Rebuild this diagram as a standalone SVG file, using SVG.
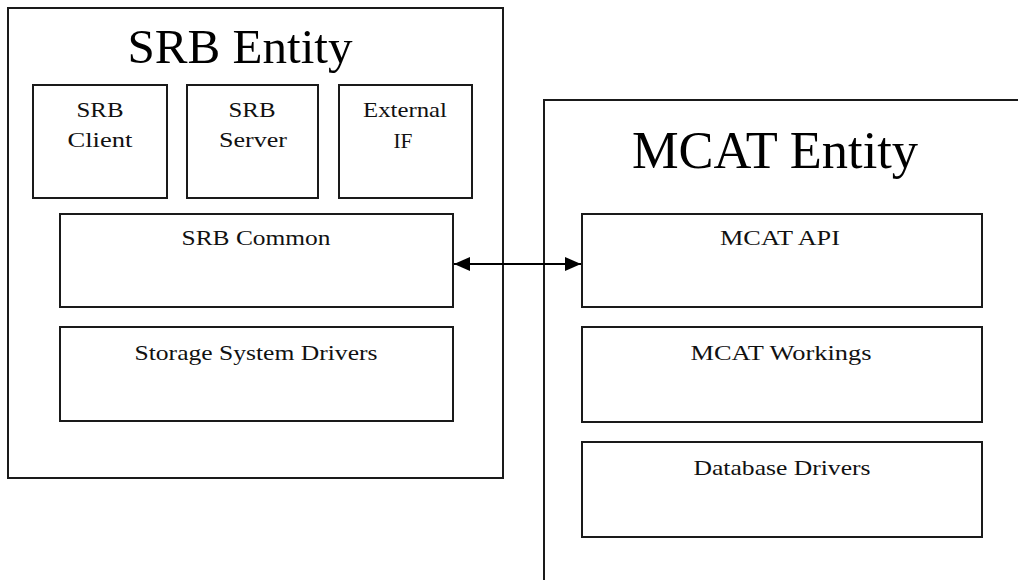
<svg xmlns="http://www.w3.org/2000/svg" width="1018" height="580" viewBox="0 0 1018 580">
<style>
.box{fill:none;stroke:#1a1a1a;stroke-width:2}
.title{font-family:"Liberation Serif","Times New Roman",serif;fill:#000;text-anchor:middle}
.lbl{font-family:"Liberation Serif","Times New Roman",serif;font-size:21px;fill:#111;text-anchor:middle}
.conn{stroke:#000;stroke-width:2;fill:none}
</style>
<defs>
<marker id="ah" viewBox="0 0 16 14" refX="16" refY="7" markerWidth="16" markerHeight="14" markerUnits="userSpaceOnUse" orient="auto-start-reverse">
<path d="M0,0 L16,7 L0,14 Z" fill="#000"/>
</marker>
</defs>
<rect width="1018" height="580" fill="#fff"/>
<g id="srb-entity">
<rect class="box" x="8" y="8" width="495" height="470"/>
<text class="title" x="240" y="63" font-size="48" textLength="225" lengthAdjust="spacingAndGlyphs">SRB Entity</text>
</g>
<g id="mcat-entity">
<path class="box" d="M544,580 L544,100 L1018,100"/>
<text class="title" x="775" y="168" font-size="52" textLength="286" lengthAdjust="spacingAndGlyphs">MCAT Entity</text>
</g>
<g id="srb-client">
<rect class="box" x="33" y="85" width="134" height="113"/>
<text class="lbl" x="100" y="117" textLength="47" lengthAdjust="spacingAndGlyphs">SRB</text>
<text class="lbl" x="100" y="147" textLength="65" lengthAdjust="spacingAndGlyphs">Client</text>
</g>
<g id="srb-server">
<rect class="box" x="187" y="85" width="131" height="113"/>
<text class="lbl" x="252" y="117" textLength="47" lengthAdjust="spacingAndGlyphs">SRB</text>
<text class="lbl" x="253" y="147" textLength="68" lengthAdjust="spacingAndGlyphs">Server</text>
</g>
<g id="external-if">
<rect class="box" x="339" y="85" width="133" height="113"/>
<text class="lbl" x="405" y="117" textLength="84" lengthAdjust="spacingAndGlyphs">External</text>
<text class="lbl" x="403" y="148" textLength="19" lengthAdjust="spacingAndGlyphs">IF</text>
</g>
<g id="srb-common">
<rect class="box" x="60" y="214" width="393" height="93"/>
<text class="lbl" x="256" y="245" textLength="149" lengthAdjust="spacingAndGlyphs">SRB Common</text>
</g>
<g id="storage-drivers">
<rect class="box" x="60" y="327" width="393" height="94"/>
<text class="lbl" x="256" y="360" textLength="243" lengthAdjust="spacingAndGlyphs">Storage System Drivers</text>
</g>
<g id="mcat-api">
<rect class="box" x="582" y="214" width="400" height="93"/>
<text class="lbl" x="780" y="245" textLength="120" lengthAdjust="spacingAndGlyphs">MCAT API</text>
</g>
<g id="mcat-workings">
<rect class="box" x="582" y="327" width="400" height="95"/>
<text class="lbl" x="781" y="360" textLength="181" lengthAdjust="spacingAndGlyphs">MCAT Workings</text>
</g>
<g id="database-drivers">
<rect class="box" x="582" y="442" width="400" height="95"/>
<text class="lbl" x="782" y="475" textLength="177" lengthAdjust="spacingAndGlyphs">Database Drivers</text>
</g>
<g id="connectors">
<line class="conn" x1="454" y1="264" x2="581" y2="264" marker-start="url(#ah)" marker-end="url(#ah)"/>
</g>
</svg>
